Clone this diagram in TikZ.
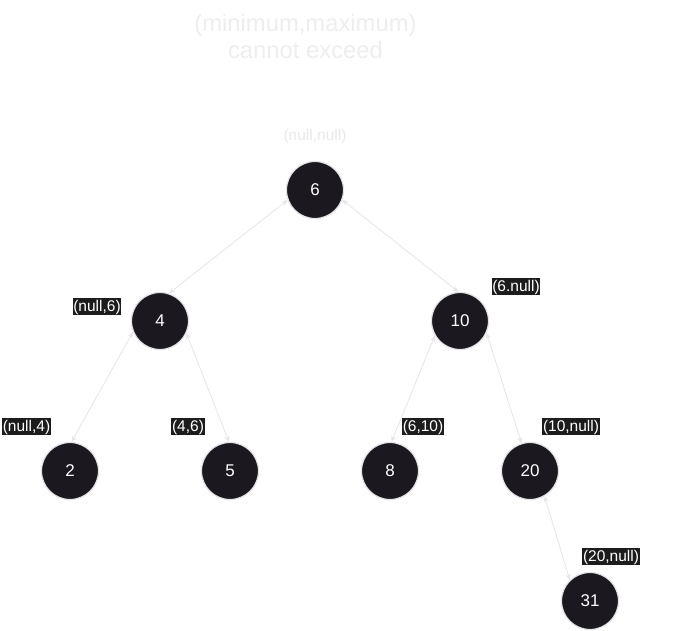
\documentclass[tikz,border=0pt]{standalone}
\usepackage{fontspec}
\setmainfont{Liberation Sans}
\usetikzlibrary{arrows.meta}
\definecolor{nodefill}{HTML}{1B1820}
\definecolor{nodeborder}{HTML}{E2E2E2}
\definecolor{tagfill}{HTML}{1C1C1C}
\definecolor{linkgray}{HTML}{E6E6E6}
\definecolor{softgray}{HTML}{E9E9E9}
\definecolor{titlegray}{HTML}{EEEEEE}
\begin{document}
\begin{tikzpicture}[x=1pt,y=-1pt,
  treenode/.style={circle, fill=nodefill, draw=nodeborder, line width=1.2pt, minimum size=57pt, inner sep=0pt, text=white, font=\fontsize{17}{19}\selectfont},
  tag/.style={fill=tagfill, text=white, inner xsep=0.6pt, inner ysep=0pt, text height=13.5pt, text depth=3.3pt, font=\fontsize{15.5}{17}\selectfont},
  softtag/.style={text=softgray, inner sep=0pt, text height=13.5pt, text depth=3.3pt, font=\fontsize{15.5}{17}\selectfont},
  titletext/.style={text=titlegray, inner sep=0pt, font=\fontsize{23.8}{27}\selectfont, anchor=base},
  link/.style={draw=linkgray, line width=0.8pt, {Stealth[length=6pt,width=5pt]}-{Stealth[length=6pt,width=5pt]}}]
\fill[white] (0,0) rectangle (680,631);
\useasboundingbox (0,0) rectangle (680,631);

\node[titletext] (t1) at (305.5,31.7) {(minimum,maximum)};
\node[titletext] (t2) at (305.5,58.3) {cannot exceed};

\node[treenode] (n6) at (315,190) {6};
\node[treenode] (n4) at (160,321) {4};
\node[treenode] (n10) at (460,321) {10};
\node[treenode] (n2) at (70,471) {2};
\node[treenode] (n5) at (230,471) {5};
\node[treenode] (n8) at (390,471) {8};
\node[treenode] (n20) at (530,471) {20};
\node[treenode] (n31) at (590,601) {31};

\node[softtag] (l6) at (315,135.5) {(null,null)};
\node[tag] (l4) at (97,306.5) {(null,6)};
\node[tag] (l10) at (516,286.5) {(6.null)};
\node[tag] (l2) at (26.5,426.5) {(null,4)};
\node[tag] (l5) at (188,426.5) {(4,6)};
\node[tag] (l8) at (423,426.5) {(6,10)};
\node[tag] (l20) at (571,426.5) {(10,null)};
\node[tag] (l31) at (611,556.5) {(20,null)};

\draw[link] (n6.200) -- (n4.72);
\draw[link] (n6.340) -- (n10.93);
\draw[link] (n4.202) -- (n2.87);
\draw[link] (n4.335) -- (n5.92);
\draw[link] (n10.210) -- (n8.87);
\draw[link] (n10.336) -- (n20.107);
\draw[link] (n20.300) -- (n31.134);
\end{tikzpicture}
\end{document}
